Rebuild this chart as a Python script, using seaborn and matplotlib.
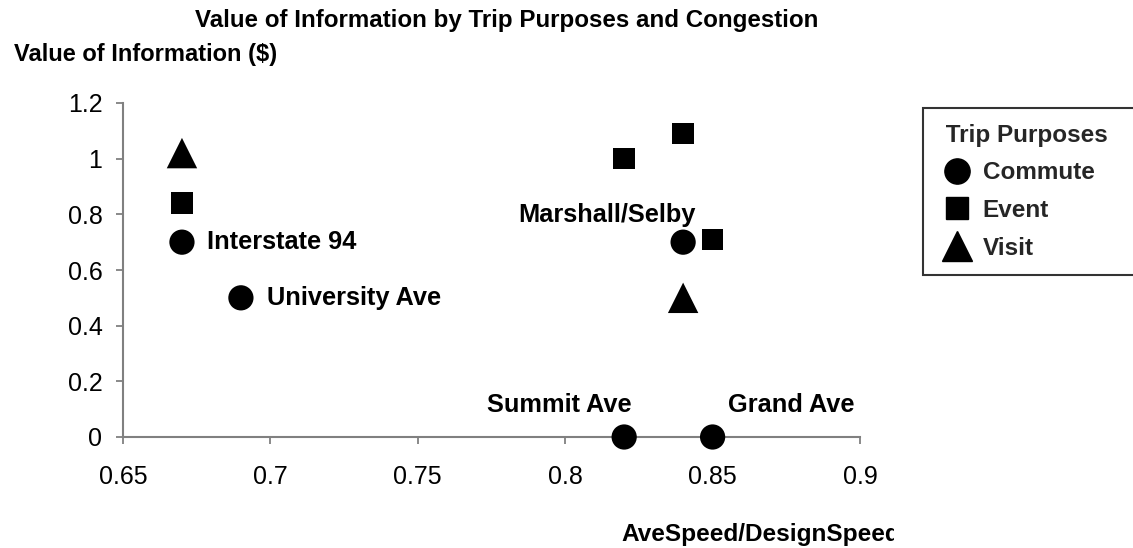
import matplotlib
matplotlib.use("Agg")
import matplotlib.pyplot as plt
import numpy as np
import pandas as pd
import seaborn as sns
from matplotlib.lines import Line2D
from matplotlib.transforms import Bbox, TransformedBbox

# ---------------- data ----------------
purposes = ["Commute", "Event", "Visit"]

commute_x = [0.67, 0.69, 0.84, 0.82, 0.85]
commute_y = [0.70, 0.50, 0.70, 0.00, 0.00]
commute_names = ["Interstate 94", "University Ave", "Marshall/Selby", "Summit Ave", "Grand Ave"]

event_x = [0.67, 0.82, 0.84, 0.85]
event_y = [0.84, 1.00, 1.09, 0.71]

visit_x = [0.67, 0.84]
visit_y = [1.02, 0.50]

x_ticks = [0.65, 0.70, 0.75, 0.80, 0.85, 0.90]
x_tick_labels = ["0.65", "0.7", "0.75", "0.8", "0.85", "0.9"]
y_ticks = [0.0, 0.2, 0.4, 0.6, 0.8, 1.0, 1.2]
y_tick_labels = ["0", "0.2", "0.4", "0.6", "0.8", "1", "1.2"]

title_text = "Value of Information by Trip Purposes and Congestion"
y_label_text = "Value of Information ($)"
x_label_text = "AveSpeed/DesignSpeed"
legend_title = "Trip Purposes"

# ---------------- styles ----------------
markers = {"Commute": "o", "Event": "s", "Visit": "^"}
marker_area = {"Commute": 330, "Event": 240, "Visit": 480}
# label offsets in pixels (dx, dy, ha)
label_style = {
    "Interstate 94": (25, 0, "left"),
    "University Ave": (26, 0, "left"),
    "Marshall/Selby": (13, 27, "right"),
    "Summit Ave": (7, 32, "right"),
    "Grand Ave": (15, 32, "left"),
}

df = pd.DataFrame({
    "x": commute_x + event_x + visit_x,
    "y": commute_y + event_y + visit_y,
    "Purpose": ["Commute"] * len(commute_x) + ["Event"] * len(event_x) + ["Visit"] * len(visit_x),
})

sns.set_theme(style="white")
plt.rcParams["font.family"] = ["Liberation Sans", "DejaVu Sans"]

W, H = 1133, 548
fig = plt.figure(figsize=(W / 100, H / 100), dpi=100)
fig.patch.set_facecolor("white")
ax = fig.add_axes([123 / W, 1 - 437 / H, (860 - 123) / W, (437 - 103) / H])
ax.set_facecolor("white")

sns.scatterplot(
    data=df, x="x", y="y", style="Purpose", markers=markers,
    size="Purpose", sizes=marker_area, color="black", linewidth=0,
    legend=False, ax=ax, clip_on=False, zorder=4,
)

ax.set_xlim(0.65, 0.90)
ax.set_ylim(0.0, 1.2)
ax.set_xticks(x_ticks)
ax.set_xticklabels(x_tick_labels)
ax.set_yticks(y_ticks)
ax.set_yticklabels(y_tick_labels)
ax.set_xlabel("")
ax.set_ylabel("")

for side in ["top", "right"]:
    ax.spines[side].set_visible(False)
for side in ["left", "bottom"]:
    ax.spines[side].set_visible(True)
    ax.spines[side].set_color("#808080")
    ax.spines[side].set_linewidth(1.5)

ax.tick_params(axis="both", which="major", bottom=True, left=True, direction="out",
               length=4.8, width=1.3, color="#808080", labelsize=18, labelcolor="black")
ax.tick_params(axis="x", pad=15.5)
ax.tick_params(axis="y", pad=10)

# point labels
for name, px, py in zip(commute_names, commute_x, commute_y):
    dx, dy, ha = label_style[name]
    ax.annotate(name, (px, py), xytext=(dx, dy), textcoords="offset pixels",
                ha=ha, va="center", fontsize=18.3, fontweight="bold",
                color="black", annotation_clip=False, zorder=5)

# titles
fig.text(507 / W, 1 - 20 / H, title_text, ha="center", va="center",
         fontsize=17.4, fontweight="bold", color="black")
fig.text(14 / W, 1 - 55 / H, y_label_text, ha="left", va="center",
         fontsize=17, fontweight="bold", color="black")
xl = fig.text(621 / W, 1 - 535 / H, x_label_text, ha="left", va="center",
              fontsize=17.6, fontweight="bold", color="black")
xl.set_clip_box(TransformedBbox(Bbox([[0, 0], [894 / W, 1]]), fig.transFigure))
xl.set_clip_on(True)

# legend
handles = [Line2D([], [], marker=markers[p], color="black", linestyle="none",
                  markersize=np.sqrt(marker_area[p])) for p in purposes]
leg = fig.legend(handles, purposes, title=" " + legend_title, loc="upper left",
                 bbox_to_anchor=(923 / W, 1 - 108 / H, 0.25, 0), mode="expand",
                 borderaxespad=0, frameon=True, fancybox=False, shadow=False,
                 fontsize=17.5, title_fontproperties={"weight": "bold", "size": 17.5},
                 prop={"weight": "bold", "size": 17.5},
                 alignment="left", borderpad=0.65, handlelength=1.5,
                 handletextpad=0.3, labelspacing=0.6)
leg.get_frame().set_edgecolor("black")
leg.get_frame().set_linewidth(1.5)
leg.get_frame().set_facecolor("white")

fig.savefig("out.png", dpi=100, facecolor="white")
